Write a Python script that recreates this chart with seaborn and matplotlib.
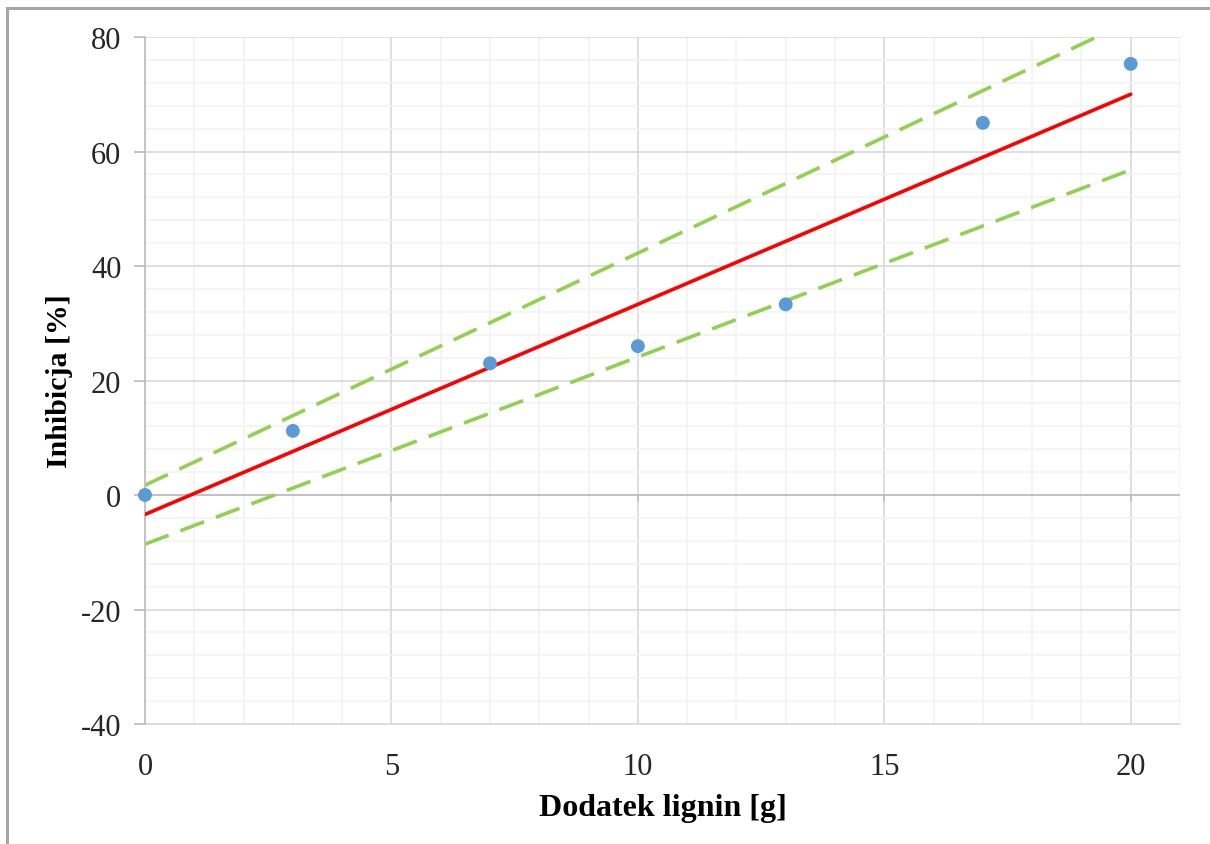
import matplotlib
matplotlib.use("Agg")
import matplotlib.pyplot as plt
import numpy as np
import pandas as pd
import seaborn as sns
from matplotlib.patches import Rectangle
from matplotlib.ticker import MultipleLocator

# Measured inhibition vs. lignin addition
lignin_g = [0, 3, 7, 10, 13, 17, 20]
inhibition_pct = [0.0, 11.2, 23.0, 26.0, 33.3, 65.0, 75.3]

# Linear trend and its lower/upper bounds, given at the ends of the range
line_x = [0, 20]
trend_y = [-3.4, 70.0]
upper_y = [1.7, 82.8]
lower_y = [-8.6, 56.8]

x_ticks = [0, 5, 10, 15, 20]
y_ticks = [-40, -20, 0, 20, 40, 60, 80]

sns.set_style("white")
plt.rcParams["font.family"] = ["Liberation Serif", "DejaVu Serif"]
plt.rcParams["axes.unicode_minus"] = False

fig = plt.figure(figsize=(12.1, 8.45), dpi=100)
ax = fig.add_axes([145 / 1210, 1 - 725 / 845, (1180 - 145) / 1210, (725 - 38) / 845])

points = pd.DataFrame({"x": lignin_g, "y": inhibition_pct})
bounds = pd.DataFrame({
    "x": line_x * 3,
    "y": trend_y + upper_y + lower_y,
    "kind": ["trend"] * 2 + ["upper"] * 2 + ["lower"] * 2,
})

ax.set_xlim(0, 21)
ax.set_ylim(-40, 80)

# grid
ax.xaxis.set_minor_locator(MultipleLocator(1))
ax.yaxis.set_minor_locator(MultipleLocator(4))
ax.set_xticks(x_ticks)
ax.set_yticks(y_ticks)
ax.grid(which="minor", color="#f2f2f2", linewidth=1.2, zorder=0)
ax.grid(which="major", color="#d9d9d9", linewidth=1.2, zorder=0)
ax.set_axisbelow(True)

for side in ["top", "right", "bottom"]:
    ax.spines[side].set_visible(False)
ax.spines["left"].set_color("#bfbfbf")
ax.spines["left"].set_linewidth(1.3)

# horizontal axis line crossing at y = 0, with its tick marks
ax.axhline(0, color="#bfbfbf", linewidth=1.3, zorder=1)
for xt in x_ticks:
    ax.plot([xt, xt], [0, -1.0], color="#bfbfbf", linewidth=1.3, zorder=1, clip_on=False)
ax.plot([0, 21], [-40, -40], color="#d9d9d9", linewidth=1.2, zorder=1, clip_on=False)

sns.lineplot(data=bounds[bounds.kind == "upper"], x="x", y="y", ax=ax,
             color="#92d050", linewidth=2.6, zorder=2)
ax.lines[-1].set_dashes([7, 3.5])
sns.lineplot(data=bounds[bounds.kind == "lower"], x="x", y="y", ax=ax,
             color="#92d050", linewidth=2.6, zorder=2)
ax.lines[-1].set_dashes([7, 3.5])
sns.lineplot(data=bounds[bounds.kind == "trend"], x="x", y="y", ax=ax,
             color="#ff0000", linewidth=2.6, zorder=3)
sns.scatterplot(data=points, x="x", y="y", ax=ax, color="#5b9bd5", s=100,
                edgecolor="none", zorder=4, clip_on=False)

ax.tick_params(axis="y", which="major", left=True, length=8, width=1.3,
               color="#bfbfbf", labelsize=22, pad=9, labelcolor="#262626")
ax.tick_params(axis="x", which="major", bottom=False, labelsize=22, pad=17,
               labelcolor="#262626")
ax.tick_params(which="minor", length=0)

ax.set_xlabel("Dodatek lignin [g]", fontsize=23, fontweight="bold", labelpad=8, color="#000000")
ax.set_ylabel("Inhibicja [%]", fontsize=21.5, fontweight="bold", labelpad=6, color="#000000")

# outer chart frame
fig.patches.append(Rectangle((7 / 1210, -0.05), 1.2, 1.05 - 9 / 845, transform=fig.transFigure,
                             fill=False, edgecolor="#a6a6a6", linewidth=2.2))

fig.savefig("out.png", dpi=100)
